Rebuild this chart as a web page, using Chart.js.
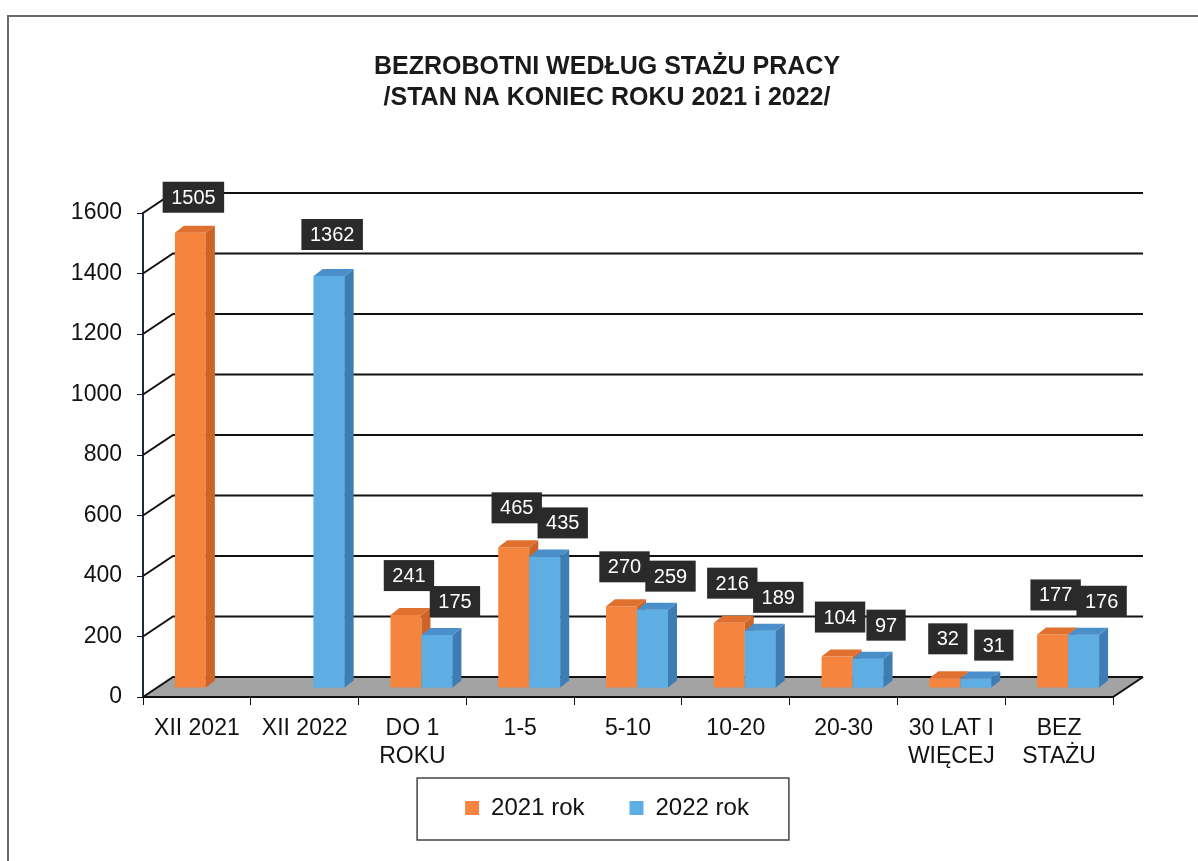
<!DOCTYPE html>
<html>
<head>
<meta charset="utf-8">
<script src="https://cdn.jsdelivr.net/npm/chart.js@4/dist/chart.umd.min.js"></script>
<style>
  html, body { margin: 0; padding: 0; background: #fff; }
  #wrap { width: 1198px; height: 861px; position: relative; }
</style>
</head>
<body>
<div id="wrap"><canvas id="chart" width="1198" height="861"></canvas></div>
<script>
// data
const categories = [['XII 2021'], ['XII 2022'], ['DO 1', 'ROKU'], ['1-5'], ['5-10'], ['10-20'], ['20-30'], ['30 LAT I', 'WIĘCEJ'], ['BEZ', 'STAŻU']];
const values2021 = [1505, null, 241, 465, 270, 216, 104, 32, 177];
const values2022 = [null, 1362, 175, 435, 259, 189, 97, 31, 176];
const yTicks = [0, 200, 400, 600, 800, 1000, 1200, 1400, 1600];
const seriesNames = ['2021 rok', '2022 rok'];
const titleLines = ['BEZROBOTNI WEDŁUG STAŻU PRACY', '/STAN NA KONIEC ROKU 2021 i 2022/'];

const FONT = "'Liberation Sans', Arial, sans-serif";
const WALL_DX = 30, WALL_DY = 20;   // depth of the fake 3d box
const BAR_DX = 9, BAR_DY = 9;       // bars sit half way into the box
const FACE_DX = 9, FACE_DY = 7;     // bar depth

const colors = {
  orange: { front: '#f5843f', top: '#e0702f', side: '#cc6428' },
  blue:   { front: '#5eade3', top: '#4a8fca', side: '#3d7db4' }
};

function drawFaces(ctx, meta, c) {
  meta.data.forEach((el, i) => {
    if (meta._parsed[i] == null || meta._parsed[i].y == null) return;
    const { x, y, base, width } = el.getProps(['x', 'y', 'base', 'width'], true);
    if (!isFinite(y)) return;
    const l = x - width / 2, r = x + width / 2;
    ctx.fillStyle = c.side;
    ctx.beginPath();
    ctx.moveTo(r, y); ctx.lineTo(r + FACE_DX, y - FACE_DY);
    ctx.lineTo(r + FACE_DX, base - FACE_DY); ctx.lineTo(r, base);
    ctx.closePath(); ctx.fill();
    ctx.fillStyle = c.top;
    ctx.beginPath();
    ctx.moveTo(l, y); ctx.lineTo(l + FACE_DX, y - FACE_DY);
    ctx.lineTo(r + FACE_DX, y - FACE_DY); ctx.lineTo(r, y);
    ctx.closePath(); ctx.fill();
  });
}

function drawLabel(ctx, text, cx, bottom) {
  ctx.font = '20px ' + FONT;
  const w = ctx.measureText(text).width + 17;
  const h = 31;
  ctx.fillStyle = '#2a2a2a';
  ctx.fillRect(cx - w / 2, bottom - h, w, h);
  ctx.fillStyle = '#fff';
  ctx.textAlign = 'center';
  ctx.textBaseline = 'middle';
  ctx.fillText(text, cx, bottom - h / 2 + 1);
}

const scene3d = {
  id: 'scene3d',
  afterLayout(chart) {
    // let the two-line category labels run past the axis box
    chart.scales.x.bottom = chart.scales.x.top + 90;
  },
  beforeDraw(chart) {
    const ctx = chart.ctx;
    ctx.save();
    ctx.strokeStyle = '#6a6a6a';
    ctx.lineWidth = 2;
    ctx.beginPath();
    ctx.moveTo(8, 861); ctx.lineTo(8, 16); ctx.lineTo(1198, 16);
    ctx.stroke();
    // frame around the legend
    const lg = chart.legend;
    if (lg && lg.legendHitBoxes.length) {
      const hb = lg.legendHitBoxes;
      const left = hb[0].left - 48;
      const right = hb[hb.length - 1].left + hb[hb.length - 1].width + 40;
      const cy = hb[0].top + hb[0].height / 2;
      ctx.strokeStyle = '#444';
      ctx.lineWidth = 1.5;
      ctx.strokeRect(left, cy - 30, right - left, 62);
    }
    ctx.restore();
  },
  beforeDatasetsDraw(chart) {
    const { ctx, chartArea: a, scales: { y } } = chart;
    const y0 = y.getPixelForValue(0);
    ctx.save();
    ctx.fillStyle = '#a3a3a3';
    ctx.beginPath();
    ctx.moveTo(a.left, y0); ctx.lineTo(a.right, y0);
    ctx.lineTo(a.right + WALL_DX, y0 - WALL_DY); ctx.lineTo(a.left + WALL_DX, y0 - WALL_DY);
    ctx.closePath(); ctx.fill();
    ctx.strokeStyle = '#111';
    ctx.lineWidth = 2;
    ctx.beginPath();
    ctx.moveTo(a.left, y0); ctx.lineTo(a.right, y0); ctx.lineTo(a.right + WALL_DX, y0 - WALL_DY);
    ctx.stroke();
    yTicks.forEach(v => {
      const py = y.getPixelForValue(v);
      ctx.beginPath();
      ctx.moveTo(a.left, py);
      ctx.lineTo(a.left + WALL_DX, py - WALL_DY);
      ctx.lineTo(a.right + WALL_DX, py - WALL_DY);
      ctx.stroke();
    });
    ctx.restore();
    ctx.save();
    ctx.translate(BAR_DX, -BAR_DY);
  },
  afterDatasetsDraw(chart) {
    const ctx = chart.ctx;
    const m0 = chart.getDatasetMeta(0), m1 = chart.getDatasetMeta(1);
    drawFaces(ctx, m0, colors.orange);
    m1.data.forEach(el => el.draw(ctx));
    drawFaces(ctx, m1, colors.blue);
    categories.forEach((cat, i) => {
      const a = values2021[i], b = values2022[i];
      const single = a == null || b == null;
      if (a != null) {
        const el = m0.data[i];
        drawLabel(ctx, String(a), el.x + 3, el.y - (single ? 20 : 24));
      }
      if (b != null) {
        const el = m1.data[i];
        drawLabel(ctx, String(b), el.x + (single ? 3 : 18), el.y - (single ? 26 : 18));
      }
    });
    ctx.restore();
  }
};

new Chart(document.getElementById('chart'), {
  type: 'bar',
  data: {
    labels: categories,
    datasets: [
      { label: seriesNames[0], data: values2021, backgroundColor: colors.orange.front, clip: false },
      { label: seriesNames[1], data: values2022, backgroundColor: colors.blue.front, clip: false }
    ]
  },
  options: {
    responsive: false,
    animation: false,
    events: [],
    layout: { padding: { left: 16, right: 0, top: 0, bottom: 31 } },
    datasets: { bar: { barPercentage: 1, categoryPercentage: 0.575 } },
    scales: {
      x: {
        afterFit(s) { s.height = 54; },
        grid: { drawOnChartArea: false, drawTicks: true, tickLength: 8, color: '#111', offset: true },
        border: { display: false },
        ticks: { color: '#111', padding: 10, maxRotation: 0, autoSkip: false, font: { family: FONT, size: 23 } }
      },
      y: {
        min: 0,
        max: 1600,
        afterFit(s) { s.width = 127; },
        afterBuildTicks(s) { s.ticks = yTicks.map(v => ({ value: v })); },
        grid: { drawOnChartArea: false, drawTicks: true, tickLength: 6, color: '#111' },
        border: { display: true, color: '#1f2a44', width: 2 },
        ticks: { color: '#111', padding: 15, font: { family: FONT, size: 23 }, callback: v => String(v) }
      },
      // empty right-hand axis: keeps room for the back wall of the 3d box
      side: {
        type: 'linear',
        position: 'right',
        afterFit(s) { s.width = 85; },
        grid: { display: false },
        border: { display: false },
        ticks: { display: false }
      }
    },
    plugins: {
      title: {
        display: true,
        text: titleLines,
        color: '#1a1a1a',
        font: { family: FONT, size: 25, weight: 'bold', lineHeight: 1.24 },
        padding: { top: 51.5, bottom: 99.5 }
      },
      legend: {
        position: 'bottom',
        labels: {
          boxWidth: 14,
          boxHeight: 14,
          padding: 45,
          color: '#111',
          font: { family: FONT, size: 24 }
        }
      },
      tooltip: { enabled: false }
    }
  },
  plugins: [scene3d]
});
</script>
</body>
</html>
